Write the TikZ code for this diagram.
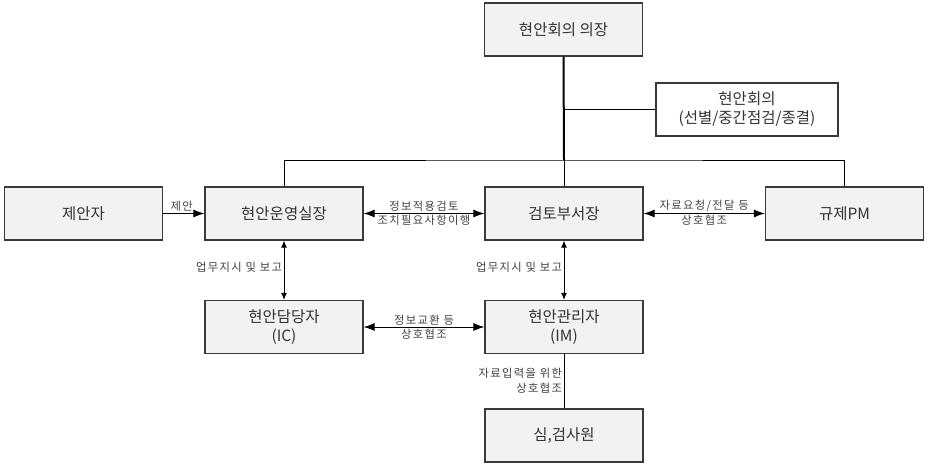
\documentclass[tikz,border=0pt]{standalone}
\usepackage{fontspec}
\setmainfont{Noto Sans CJK KR}
\newfontfamily\lblfont{Noto Sans CJK KR}[LetterSpace=12]
\usetikzlibrary{arrows.meta}
\definecolor{boxfill}{HTML}{F2F2F2}
\definecolor{boxline}{HTML}{3A3A3A}
\tikzset{
  box/.style={draw=boxline, line width=1.1pt, fill=boxfill, minimum width=158pt, minimum height=53pt, inner sep=0pt, align=center, font=\fontsize{15.5}{19}\selectfont, text=black!80},
  wbox/.style={box, fill=white, minimum width=182pt},
  conn/.style={line width=1pt, black},
  thick conn/.style={line width=2pt, black},
  arr/.style={conn, {Latex[length=11pt,width=8pt]}-{Latex[length=11pt,width=8pt]}},
  varr/.style={conn, {Latex[length=7pt,width=6pt]}-{Latex[length=7pt,width=6pt]}},
  sarr/.style={conn, -{Latex[length=11pt,width=8pt]}},
  lbl/.style={font=\lblfont\fontsize{11.3}{15}\selectfont, text=black!75, inner sep=1.5pt, align=center}
}
\begin{document}
\begin{tikzpicture}[x=1pt,y=-1pt]
\useasboundingbox (0,0) rectangle (929,466);
\node[box] (chair) at (563.5,29.5) {현안회의 의장};
\node[wbox] (meeting) at (747,109.5) {현안회의\\(선별/중간점검/종결)};
\node[box] (proposer) at (83.5,213.5) {제안자};
\node[box] (ops) at (284,213.5) {현안운영실장};
\node[box] (review) at (564,213.5) {검토부서장};
\node[box] (pm) at (844.5,213.5) {규제PM};
\node[box] (ic) at (284,327) {현안담당자\\(IC)};
\node[box] (im) at (564,327) {현안관리자\\(IM)};
\node[box] (insp) at (564,435.5) {심,검사원};
\coordinate (bus) at (564,160);
% hierarchy lines
\draw[thick conn] (chair.south) -- (bus);
\draw[conn] (bus) -- (review.north);
\draw[conn] (chair.south |- meeting.west) -- (meeting.west);
\draw[conn] (ops.north) |- (bus) -| (pm.north);
% arrows
\draw[sarr] (proposer.east) -- node[lbl, above, pos=0.45] {제안} (ops.west);
\draw[arr] (ops.east) -- node[lbl, above] {정보적용검토} node[lbl, below] {조치필요사항이행} (review.west);
\draw[arr] (review.east) -- node[lbl, above] {자료요청/전달 등} node[lbl, below] {상호협조} (pm.west);
\draw[varr] (ops.south) -- node[lbl, left, pos=0.45] {업무지시 및 보고} (ic.north);
\draw[varr] (review.south) -- node[lbl, left, pos=0.45] {업무지시 및 보고} (im.north);
\draw[arr] (ic.east) -- node[lbl, above] {정보교환 등} node[lbl, below] {상호협조} (im.west);
\draw[conn] (im.south) -- node[lbl, left, align=right] {자료입력을 위한\\상호협조} (insp.north);
\end{tikzpicture}
\end{document}
